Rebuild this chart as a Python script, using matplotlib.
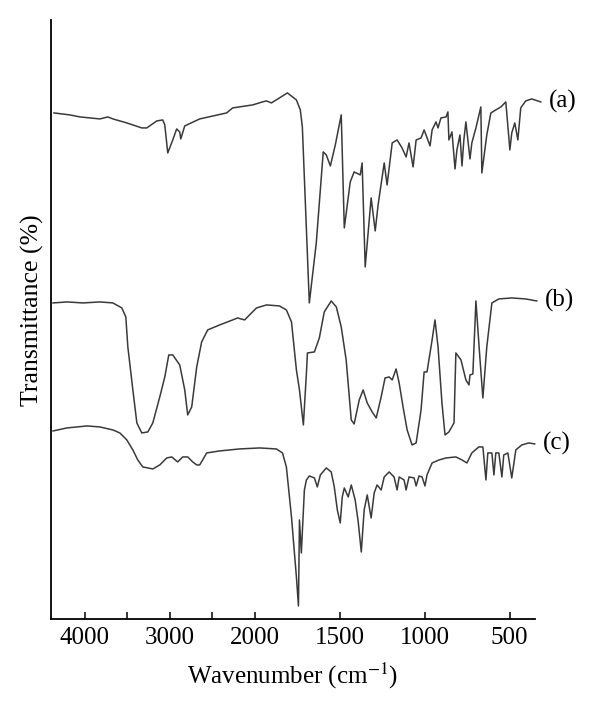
import numpy as np
import matplotlib
matplotlib.use("Agg")
import matplotlib.pyplot as plt

plt.rcParams['font.family'] = ['Liberation Serif', 'DejaVu Serif']
plt.rcParams['mathtext.fontset'] = 'stix'

# wavenumber (cm-1) and transmittance (arbitrary units, traces offset)
wn_a = [4365, 4177, 4059, 3824, 3730, 3671, 3507, 3331, 3272, 3154, 3084, 3060, 3025,
        2966, 2920, 2884, 2872, 2825, 2649, 2332, 2261, 2026, 1955, 1931, 1902, 1808,
        1755, 1732, 1720, 1679, 1638, 1597, 1579, 1555, 1526, 1491, 1473, 1438, 1415,
        1379, 1368, 1350, 1315, 1291, 1274, 1238, 1221, 1191, 1162, 1133, 1109, 1092,
        1068, 1050, 1021, 1003, 968, 956, 933, 921, 904, 874, 863, 857, 839, 821, 810,
        792, 780, 769, 757, 733, 722, 698, 669, 663, 634, 610, 581, 551, 522, 498, 487,
        469, 451, 434, 405, 369, 316]
tr_a = [506, 504, 502, 500, 502, 500, 496, 491, 491, 498, 499, 494, 466,
        479, 490, 487, 480, 493, 500, 506, 511, 514, 517, 518, 516, 526,
        519, 509, 492, 316, 376, 467, 464, 453, 474, 504, 391, 437, 447,
        444, 456, 352, 421, 388, 414, 456, 434, 476, 479, 471, 462, 476,
        452, 479, 481, 489, 473, 489, 497, 491, 501, 502, 507, 479, 487, 450, 469,
        484, 453, 479, 497, 460, 476, 491, 512, 446, 484, 506, 509, 512, 517, 469, 486,
        496, 479, 511, 518, 520, 517]

wn_b = [4376, 4212, 4024, 3824, 3671, 3566, 3519, 3495, 3436, 3389, 3331, 3260, 3201,
        3119, 3060, 3013, 2966, 2884, 2825, 2790, 2743, 2684, 2626, 2555, 2414, 2261,
        2203, 2120, 2062, 1990, 1931, 1855, 1814, 1784, 1755, 1737, 1714, 1696, 1690,
        1649, 1620, 1591, 1550, 1520, 1491, 1462, 1432, 1415, 1385, 1362, 1338, 1309,
        1285, 1256, 1233, 1209, 1191, 1168, 1150, 1127, 1103, 1074, 1050, 1021, 1003,
        986, 956, 939, 921, 898, 880, 857, 827, 816, 786, 757, 739, 733, 716, 698, 675,
        657, 634, 604, 563, 487, 405, 340]
tr_b = [316, 317, 316, 317, 316, 311, 302, 272, 229, 196, 186, 187, 196,
        222, 242, 264, 264, 254, 229, 204, 212, 252, 277, 289, 294, 299,
        301, 299, 304, 311, 314, 313, 309, 297, 249, 229, 194, 246, 266,
        267, 281, 307, 318, 312, 292, 259, 199, 195, 219, 229, 216, 207,
        201, 222, 241, 242, 239, 250, 236, 212, 189, 174, 176, 209, 247,
        247, 279, 299, 272, 216, 184, 187, 196, 266, 259, 239, 234, 244, 245, 318, 262,
        221, 272, 316, 320, 321, 320, 318]

wn_c = [4376, 4212, 3977, 3824, 3671, 3589, 3507, 3436, 3378, 3319, 3201, 3119, 3037,
        2978, 2908, 2849, 2790, 2731, 2684, 2649, 2614, 2567, 2414, 2179, 1972, 1873,
        1837, 1814, 1784, 1755, 1743, 1737, 1726, 1708, 1696, 1679, 1649, 1632, 1614,
        1579, 1550, 1532, 1514, 1497, 1485, 1473, 1450, 1432, 1409, 1391, 1373, 1356,
        1338, 1315, 1297, 1280, 1256, 1238, 1209, 1180, 1162, 1150, 1121, 1109, 1092,
        1062, 1050, 1033, 1015, 998, 986, 956, 915, 874, 816, 780, 751, 722, 681, 657,
        639, 628, 604, 592, 581, 563, 545, 534, 510, 487, 463, 428, 387, 352]
tr_c = [188, 191, 193, 192, 189, 186, 179, 169, 159, 152, 150, 154, 161,
        162, 157, 162, 162, 157, 154, 154, 159, 166, 168, 170, 171, 170,
        166, 152, 102, 42, 13, 99, 66, 129, 139, 143, 141, 132, 144,
        151, 147, 132, 109, 96, 122, 131, 122, 134, 119, 97, 67, 109,
        124, 101, 126, 134, 129, 142, 147, 142, 129, 142, 139, 129, 142,
        141, 133, 143, 142, 133, 144, 156, 159, 161, 162, 159, 156, 166, 172, 172,
        139, 166, 166, 144, 166, 166, 142, 164, 166, 141, 169, 174, 176, 175]

labels = ['(a)', '(b)', '(c)']
ticks = [4000, 3500, 3000, 2500, 2000, 1500, 1000, 500]
tick_labels = ['4000', '', '3000', '', '2000', '1500', '1000', '500']


# the region below 2000 cm-1 is drawn at twice the scale
def fwd(w):
    w = np.asarray(w, dtype=float)
    return np.where(w >= 2000, w, 2 * w - 2000)


def inv(v):
    v = np.asarray(v, dtype=float)
    return np.where(v >= 2000, v, (v + 2000) / 2)


fig = plt.figure(figsize=(6, 7.09), dpi=100)
ax = fig.add_axes([0.085, 0.127, 0.8067, 0.8449])
ax.set_xscale('function', functions=(fwd, inv))

for wn, tr, lab in zip([wn_a, wn_b, wn_c], [tr_a, tr_b, tr_c], labels):
    ax.plot(wn, tr, color='#3a3a3a', lw=1.1, clip_on=False)
    ax.annotate(lab, (wn[-1], tr[-1]), xytext=(6, 0), textcoords='offset points',
                ha='left', va='center', fontsize=18, annotation_clip=False)

ax.set_xlim(4400, 350)
ax.set_ylim(0, 599)
ax.set_xticks(ticks)
ax.set_xticklabels(tick_labels)
ax.set_yticks([])
ax.tick_params(axis='x', direction='in', length=5, width=1.1, labelsize=18, pad=6)
ax.xaxis.set_minor_locator(matplotlib.ticker.NullLocator())
for s in ['top', 'right']:
    ax.spines[s].set_visible(False)
for s in ['left', 'bottom']:
    ax.spines[s].set_linewidth(1.3)

ax.set_xlabel('Wavenumber (cm$^{-1}$)', fontsize=18)
ax.set_ylabel('Transmittance (%)', fontsize=18.5)
ax.xaxis.set_label_coords(0.5, -0.07)
ax.yaxis.set_label_coords(-0.014, 0.516)

fig.savefig('out.png', dpi=100)
